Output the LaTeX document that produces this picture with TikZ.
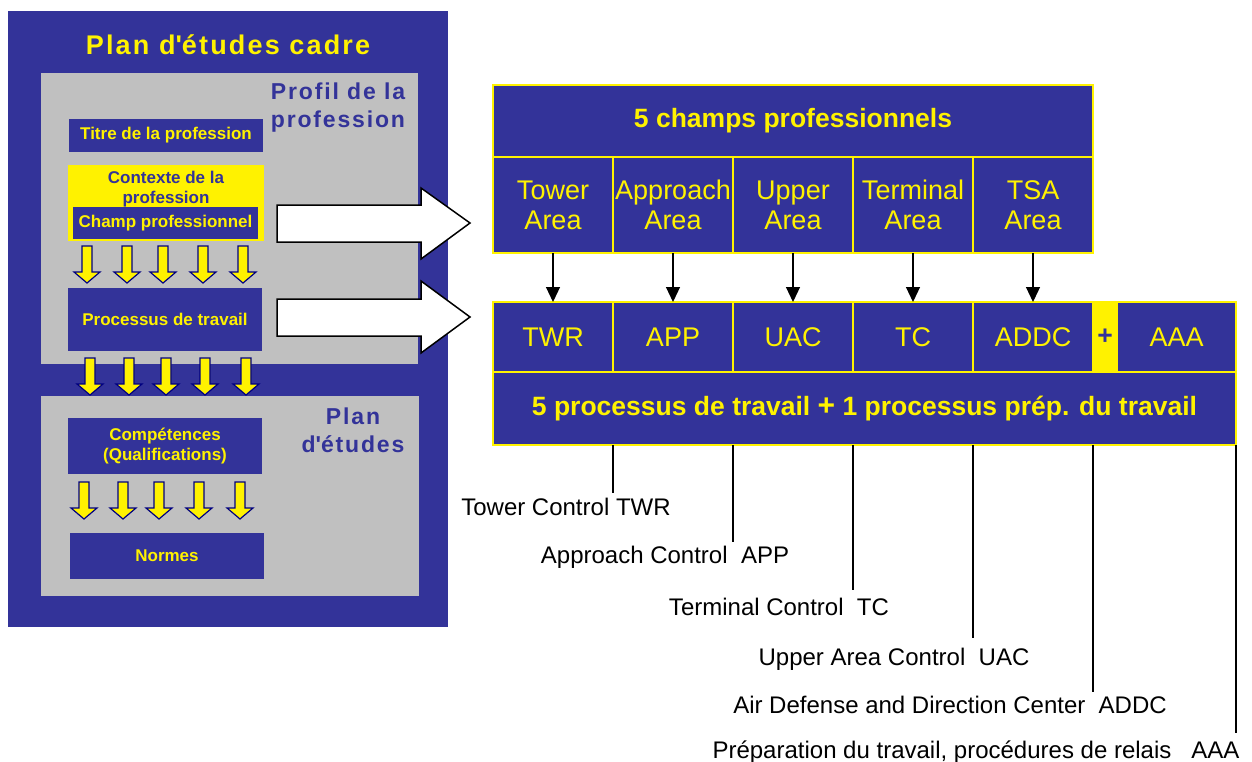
\documentclass[tikz,border=0pt]{standalone}
\usepackage{fontspec}
\setmainfont{Liberation Sans}
\usetikzlibrary{arrows.meta, positioning}
\definecolor{PanelBlue}{RGB}{51, 51, 153}
\definecolor{PanelGrey}{RGB}{192, 192, 192}
\definecolor{ArrowNavy}{RGB}{0, 0, 128}
\newcommand{\titlefont}{\fontsize{27}{32}\selectfont\bfseries\addfontfeatures{LetterSpace=8}}
\newcommand{\areafont}{\fontsize{23}{28}\selectfont\bfseries\addfontfeatures{LetterSpace=8}}
\newcommand{\boxfont}{\fontsize{17}{20}\selectfont\bfseries}
\newcommand{\cellfont}{\fontsize{27}{30}\selectfont}
\newcommand{\hdrfont}{\fontsize{26.5}{30}\selectfont\bfseries}
\newcommand{\legendfont}{\fontsize{24}{28}\selectfont}

\begin{document}
\begin{tikzpicture}[
        x=1pt, y=-1pt,
        panel/.style={rectangle, fill=PanelBlue, anchor=north west, inner sep=0pt, outer sep=0pt},
        greyarea/.style={rectangle, fill=PanelGrey, anchor=north west, inner sep=0pt, outer sep=0pt},
        leftbox/.style={rectangle, fill=PanelBlue, text=yellow, anchor=north west, align=center, font=\boxfont, minimum width=194pt, inner sep=0pt, outer sep=0pt},
        areatitle/.style={text=PanelBlue, align=center, font=\areafont, anchor=base, inner sep=0pt},
        cell/.style={rectangle, draw=yellow, line width=1.5pt, fill=PanelBlue, text=yellow, align=center, font=\cellfont, minimum width=120pt, anchor=north west, inner sep=0pt, outer sep=0pt},
        down/.style={draw, -{Triangle[width=14pt, length=15pt]}, line width=1.2pt},
        lead/.style={draw, line width=1.2pt},
        caption/.style={font=\legendfont, anchor=base, inner sep=0pt},
        bigarrow/.style={draw, fill=white, line width=1.5pt, line join=miter},
        yarrow/.pic={\path[fill=yellow, draw=ArrowNavy, line width=1.2pt] (-5,0) -- (5,0) -- (5,26) -- (13,26) -- (0,37) -- (-13,26) -- (-5,26) -- cycle;}
    ]
        \useasboundingbox (0,0) rectangle (1252,762);

        \node [panel, minimum width=440pt, minimum height=616pt] (frame) at (8,11) {};
        \node [anchor=base, font=\titlefont, text=yellow, inner sep=0pt] (plantitle) at (228,55) {Plan d\textquotesingle études cadre};
        \node [greyarea, minimum width=377pt, minimum height=291pt] (profil) at (41,73) {};
        \node [greyarea, minimum width=378pt, minimum height=200pt] (etudes) at (41,396) {};
        \node [areatitle] (profiltxt) at (338,128) {Profil de la\\profession};
        \node [areatitle] (etudestxt) at (353,452) {Plan\\d\textquotesingle études};

        \node [leftbox, minimum height=33pt] (titre) at (69,119) {Titre de la profession};
        \node [panel, fill=yellow, minimum width=196pt, minimum height=76pt] (contexte) at (68,165) {};
        \node [font=\boxfont, text=PanelBlue, align=center, anchor=base, inner sep=0pt] (contextetxt) at (166,204) {Contexte de la\\profession};
        \node [leftbox, minimum width=185pt, minimum height=32pt] (champ) at (73,207) {Champ professionnel};
        \node [leftbox, minimum height=63pt] (processus) at (68,288) {Processus de travail};
        \node [leftbox, minimum height=56pt] (competences) at (68,418) {Compétences\\(Qualifications)};
        \node [leftbox, minimum height=46pt] (normes) at (70,533) {Normes};

        \foreach \ax in {87,127,163,203,243} \pic at (\ax,246) {yarrow};
        \foreach \ax in {90,129,166,205,246} \pic at (\ax,358) {yarrow};
        \foreach \ax in {84,123,159,199,240} \pic at (\ax,482) {yarrow};

        \path [bigarrow] (277,205) -- (421,205) -- (421,188) -- (470,223) -- (421,259) -- (421,242) -- (277,242) -- cycle;
        \path [bigarrow] (277,299) -- (421,299) -- (421,281) -- (470,317) -- (421,353) -- (421,336) -- (277,336) -- cycle;

        \node [cell, font=\hdrfont, minimum width=600pt, minimum height=72pt] (champs) at (493,85) {5 champs professionnels};
        \node [cell, minimum height=96pt, below right=0pt and 0pt of champs.south west] (tower) {Tower\\Area};
        \node [cell, minimum height=96pt, right=0pt of tower] (approach) {Approach\\Area};
        \node [cell, minimum height=96pt, right=0pt of approach] (upper) {Upper\\Area};
        \node [cell, minimum height=96pt, right=0pt of upper] (terminal) {Terminal\\Area};
        \node [cell, minimum height=96pt, right=0pt of terminal] (tsa) {TSA\\Area};

        \node [cell, minimum height=70pt] (twr) at (493,302) {TWR};
        \node [cell, minimum height=70pt, right=0pt of twr] (app) {APP};
        \node [cell, minimum height=70pt, right=0pt of app] (uac) {UAC};
        \node [cell, minimum height=70pt, right=0pt of uac] (tc) {TC};
        \node [cell, minimum height=70pt, right=0pt of tc] (addc) {ADDC};
        \node [cell, fill=yellow, text=PanelBlue, font=\hdrfont, minimum width=24pt, minimum height=70pt, right=0pt of addc] (plus) {+};
        \node [cell, minimum width=119pt, minimum height=70pt, right=0pt of plus] (aaa) {AAA};
        \node [cell, font=\hdrfont, minimum width=743pt, minimum height=73pt, below right=0pt and 0pt of twr.south west] (band) {5 processus de travail {\fontsize{30}{30}\selectfont+} 1 processus prép. du travail};

        \path [down] (tower.south) -- (twr.north);
        \path [down] (approach.south) -- (app.north);
        \path [down] (upper.south) -- (uac.north);
        \path [down] (terminal.south) -- (tc.north);
        \path [down] (tsa.south) -- (addc.north);

        \coordinate (e1) at (613,493);
        \coordinate (e2) at (733,542);
        \coordinate (e3) at (853,590);
        \coordinate (e4) at (973,638);
        \coordinate (e5) at (1093,692);
        \coordinate (e6) at (1236,733);
        \path [lead] (band.south -| twr.east) -- (e1);
        \path [lead] (band.south -| app.east) -- (e2);
        \path [lead] (band.south -| uac.east) -- (e3);
        \path [lead] (band.south -| tc.east) -- (e4);
        \path [lead] (band.south -| addc.east) -- (e5);
        \path [lead] (band.south east) -- (e6);

        \node [caption] (twrlbl) at (566,515) {Tower Control TWR};
        \node [caption] (applbl) at (665,563) {Approach Control\ \ APP};
        \node [caption] (tclbl) at (779,615) {Terminal Control\ \ TC};
        \node [caption] (uaclbl) at (894,665) {Upper Area Control\ \ UAC};
        \node [caption] (addclbl) at (950,713) {Air Defense and Direction Center\ \ ADDC};
        \node [caption] (aaalbl) at (976,758) {Préparation du travail, procédures de relais\ \ \ AAA};
    \end{tikzpicture}
\end{document}
